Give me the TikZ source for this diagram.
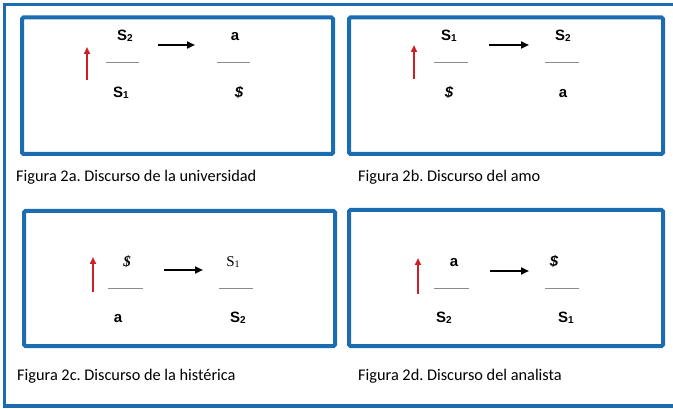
\documentclass[tikz,border=0pt]{standalone}
\usepackage{fontspec}
\usetikzlibrary{arrows.meta}
\newfontfamily\termfont{Liberation Sans}
\newfontfamily\romanterm{Liberation Serif}
\newfontfamily\capfont{Carlito}
\definecolor{frameblue}{RGB}{28,108,178}
\definecolor{liftred}{RGB}{205,32,38}
\newcommand{\ix}[1]{\raisebox{-0.8pt}{\fontsize{10}{10}\selectfont #1}}
\frenchspacing

\begin{document}
\begin{tikzpicture}[x=1pt,y=-1pt,
    outer/.style={draw=frameblue,line width=3.5pt},
    frame/.style={draw=frameblue,line width=4pt,rounded corners=1.5pt},
    term/.style={font=\termfont\bfseries\fontsize{15}{15}\selectfont,anchor=base,inner sep=0pt},
    rterm/.style={font=\romanterm\fontsize{15}{15}\selectfont,anchor=base,inner sep=0pt},
    bar/.style={draw=black!45,line width=0.8pt},
    lift/.style={draw=liftred,line width=1.8pt,-{Triangle[length=7pt,width=6pt]}},
    flow/.style={draw=black,line width=2pt,-{Triangle[length=8pt,width=7pt]}},
    caption/.style={font=\capfont\fontsize{16.3}{16.3}\selectfont,anchor=base west,inner sep=0pt}]
            \useasboundingbox (0,0) rectangle (673,409);
            \draw[outer] (673,4.3) -- (4.7,4.3) -- (4.7,406) -- (673,406);
            % universidad
            \draw[frame] (22,17.5) rectangle (333,154);
            \node (u1) at (125,41) [term] {S\ix{2}};
            \node (u2) at (121,98) [term] {S\ix{1}};
            \node (u3) at (235,41) [term] {a};
            \node (u4) at (239,98) [term] {\itshape\$};
            \draw[bar] (106,62) -- (139,62) (217,62) -- (250,62);
            \coordinate (ul0) at (87,80);
            \coordinate (ul1) at (87,47);
            \coordinate (uf0) at (158,45);
            \coordinate (uf1) at (195,45);
            \draw[lift] (ul0) -- (ul1);
            \draw[flow] (uf0) -- (uf1);
            \node (ucap) at (16,182) [caption] {Figura 2a. Discurso de la universidad};
            % amo
            \draw[frame] (349,17.5) rectangle (663,154);
            \node (m1) at (449,41) [term] {S\ix{1}};
            \node (m2) at (449,98) [term] {\itshape\$};
            \node (m3) at (563,41) [term] {S\ix{2}};
            \node (m4) at (563,98) [term] {a};
            \draw[bar] (434,62) -- (468,62) (545,62) -- (579,62);
            \coordinate (ml0) at (414,79);
            \coordinate (ml1) at (414,45);
            \coordinate (mf0) at (489,45);
            \coordinate (mf1) at (529,45);
            \draw[lift] (ml0) -- (ml1);
            \draw[flow] (mf0) -- (mf1);
            \node (mcap) at (358,182) [caption] {Figura 2b. Discurso del amo};
            % histerica
            \draw[frame] (24,211) rectangle (335,346);
            \node (h1) at (127,267) [rterm] {\bfseries\itshape\$};
            \node (h2) at (118,323) [term] {a};
            \node (h3) at (233,267) [rterm] {S\ix{1}};
            \node (h4) at (238,323) [term] {S\ix{2}};
            \draw[bar] (108,288) -- (143,288) (219,288) -- (253,288);
            \coordinate (hl0) at (93,292);
            \coordinate (hl1) at (93,257);
            \coordinate (hf0) at (164,270);
            \coordinate (hf1) at (203,270);
            \draw[lift] (hl0) -- (hl1);
            \draw[flow] (hf0) -- (hf1);
            \node (hcap) at (17,381) [caption] {Figura 2c. Discurso de la histérica};
            % analista
            \draw[frame] (349,210) rectangle (663,346);
            \node (n1) at (454,267) [term] {a};
            \node (n2) at (444,323) [term] {S\ix{2}};
            \node (n3) at (554,267) [term] {\itshape\$};
            \node (n4) at (566,323) [term] {S\ix{1}};
            \draw[bar] (434,288) -- (469,288) (545,288) -- (579,288);
            \coordinate (nl0) at (418,294);
            \coordinate (nl1) at (418,258);
            \coordinate (nf0) at (490,271);
            \coordinate (nf1) at (529,271);
            \draw[lift] (nl0) -- (nl1);
            \draw[flow] (nf0) -- (nf1);
            \node (ncap) at (358,381) [caption] {Figura 2d. Discurso del analista};
        \end{tikzpicture}
\end{document}
